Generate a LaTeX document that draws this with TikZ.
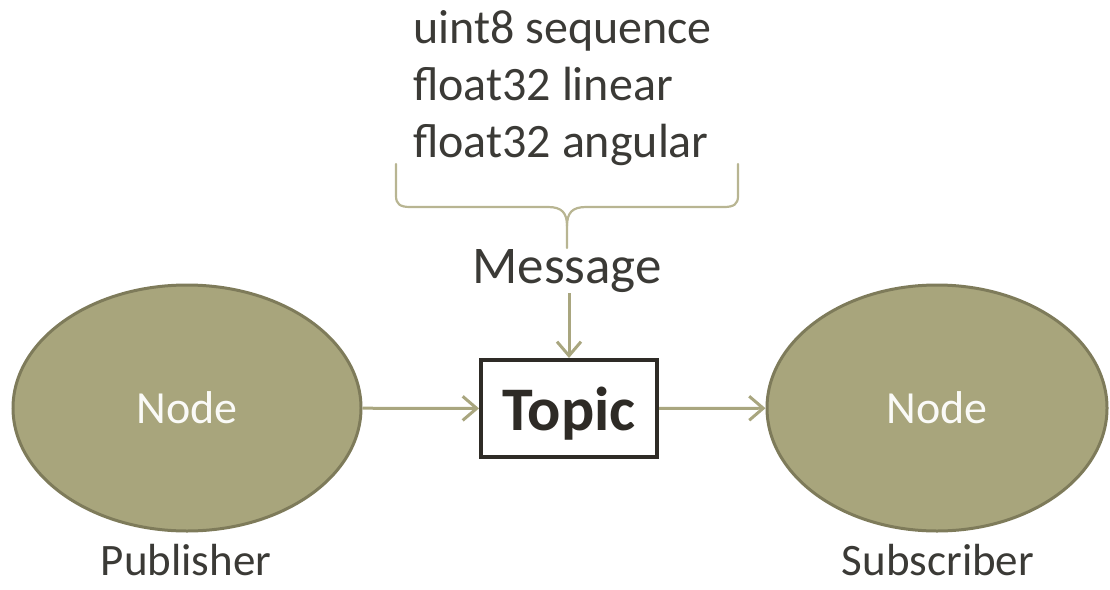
\documentclass[tikz,border=0pt]{standalone}
\usepackage{fontspec}
\setmainfont{Carlito}
\usetikzlibrary{shapes.geometric,arrows.meta}
\definecolor{olivefill}{HTML}{A8A57C}
\definecolor{olivedraw}{HTML}{7E7B5A}
\definecolor{arrowcol}{HTML}{A9A67F}
\definecolor{bracecol}{HTML}{B8B592}
\definecolor{txt}{HTML}{3B3A36}
\definecolor{boxcol}{HTML}{2E2B26}
\tikzset{
  rosnode/.style={ellipse, fill=olivefill, draw=olivedraw, line width=3pt,
    inner sep=0pt, text=white!94!olivefill, font=\fontsize{46}{55}\selectfont},
  topicbox/.style={rectangle, draw=boxcol, line width=4pt, fill=white,
    minimum width=176pt, minimum height=97pt, inner sep=0pt, text depth=0pt,
    text=boxcol, font=\fontsize{62}{74}\selectfont\bfseries},
  fieldtxt/.style={anchor=base west, inner sep=0pt, text=txt, font=\fontsize{48}{57}\selectfont},
  labeltxt/.style={anchor=base, inner sep=0pt, text=txt, font=\fontsize{45}{54}\selectfont},
  msgtxt/.style={anchor=base, inner sep=0pt, text=txt, font=\fontsize{53}{63}\selectfont},
  flow/.style={draw=arrowcol, line width=3pt, -{Straight Barb[length=14pt,width=24pt,line width=3pt]}},
  bracestyle/.style={draw=bracecol, line width=2.2pt, line cap=round, line join=round}
}
\begin{document}
\begin{tikzpicture}[x=1pt, y=-1pt]
\useasboundingbox (0,0) rectangle (1110,589);
% fields
\node[fieldtxt] (f1) at (413,43) {uint8 sequence};
\node[fieldtxt] (f2) at (413,100) {float32 linear};
\node[fieldtxt] (f3) at (413,157) {float32 angular};
% brace
\draw[bracestyle] (396,164) -- (396,196) .. controls (396,204) and (400,207) .. (410,207)
  -- (548,207) .. controls (562,207) and (567,213) .. (567,226) -- (567,248);
\draw[bracestyle] (738,164) -- (738,196) .. controls (738,204) and (734,207) .. (724,207)
  -- (586,207) .. controls (572,207) and (567,213) .. (567,226);
% message
\node[msgtxt] (msg) at (567,283) {Message};
% nodes
\node[rosnode, minimum width=348pt, minimum height=246pt] (pub) at (187,408) {Node};
\node[rosnode, minimum width=340pt, minimum height=246pt] (sub) at (937,408) {Node};
\node[topicbox] (topic) at (569,408.5) {Topic};
% labels
\node[labeltxt] (publbl) at (186,575) {Publisher};
\node[labeltxt] (sublbl) at (938,575) {Subscriber};
% connectors
\draw[flow] (pub) -- (topic);
\draw[flow] (topic) -- (sub);
\draw[flow] (msg.south -| topic.north) ++(0,1) coordinate (msgstart) -- (topic.north);
\end{tikzpicture}
\end{document}
